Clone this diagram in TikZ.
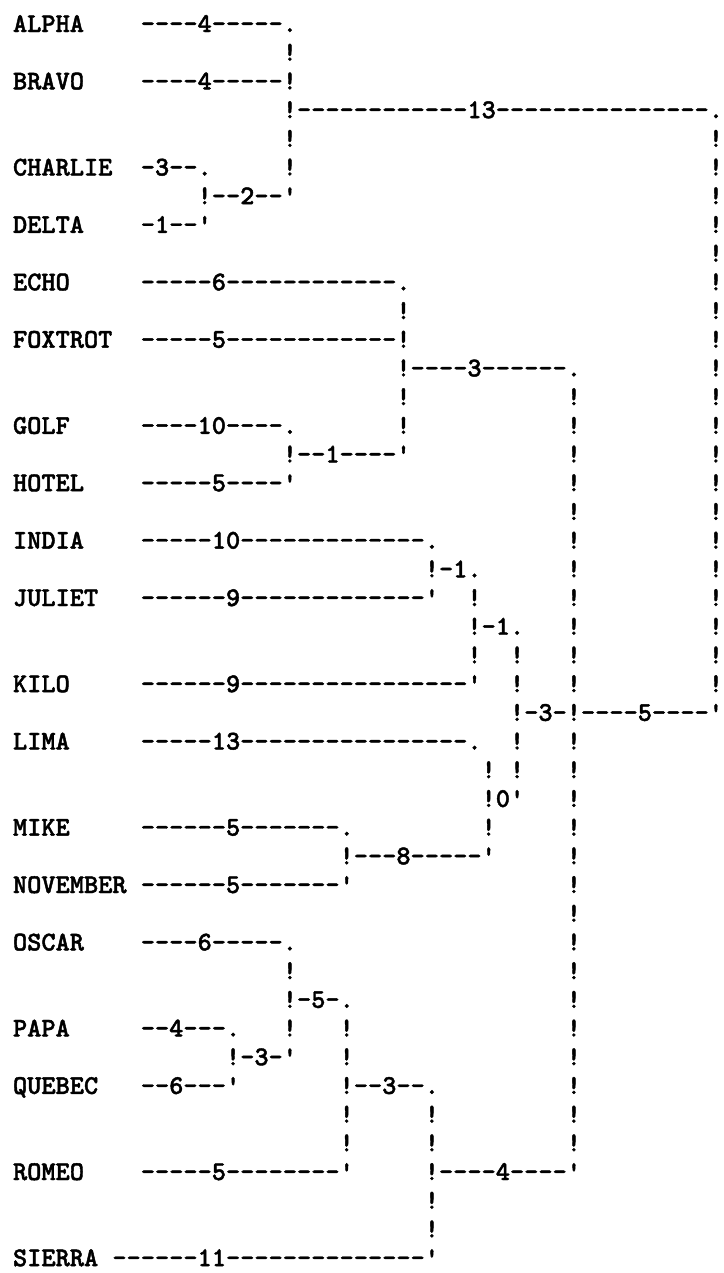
\documentclass[tikz,border=0pt]{standalone}
\usepackage{fontspec}
\setmonofont{lmmonolt10-bold.otf}[FakeBold=1.6]

\begin{document}
\begin{tikzpicture}[
  x=7.1pt, y=-14.35pt,
  font=\ttfamily\fontsize{13.524}{16}\selectfont,
  txt/.style={anchor=base west,inner sep=0pt,outer sep=0pt}]

\useasboundingbox (-0.9155,-1.115) rectangle (50.07,43.24);

\node[txt] (alpha) at (0,0) {ALPHA};
\node[txt] (alpha-l) at (9,0) {----4-----.};
\node[txt] (bravo) at (0,2) {BRAVO};
\node[txt] (bravo-l) at (9,2) {----4-----!};
\node[txt] (ab) at (19,3) {!------------13---------------.};
\node[txt] (charlie) at (0,5) {CHARLIE};
\node[txt] (charlie-l) at (9,5) {-3--.};
\node[txt] (cd) at (13,6) {!--2--'};
\node[txt] (delta) at (0,7) {DELTA};
\node[txt] (delta-l) at (9,7) {-1--'};
\node[txt] (echo) at (0,9) {ECHO};
\node[txt] (echo-l) at (9,9) {-----6------------.};
\node[txt] (foxtrot) at (0,11) {FOXTROT};
\node[txt] (foxtrot-l) at (9,11) {-----5------------!};
\node[txt] (ef) at (27,12) {!----3------.};
\node[txt] (golf) at (0,14) {GOLF};
\node[txt] (golf-l) at (9,14) {----10----.};
\node[txt] (gh) at (19,15) {!--1----'};
\node[txt] (hotel) at (0,16) {HOTEL};
\node[txt] (hotel-l) at (9,16) {-----5----'};
\node[txt] (india) at (0,18) {INDIA};
\node[txt] (india-l) at (9,18) {-----10-------------.};
\node[txt] (ij) at (29,19) {!-1.};
\node[txt] (juliet) at (0,20) {JULIET};
\node[txt] (juliet-l) at (9,20) {------9-------------'};
\node[txt] (ijk) at (32,21) {!-1.};
\node[txt] (kilo) at (0,23) {KILO};
\node[txt] (kilo-l) at (9,23) {------9----------------'};
\node[txt] (root) at (35,24) {!-3-!----5----'};
\node[txt] (lima) at (0,25) {LIMA};
\node[txt] (lima-l) at (9,25) {-----13----------------.};
\node[txt] (lmn) at (33,27) {!0'};
\node[txt] (mike) at (0,28) {MIKE};
\node[txt] (mike-l) at (9,28) {------5-------.};
\node[txt] (mn) at (23,29) {!---8-----'};
\node[txt] (november) at (0,30) {NOVEMBER};
\node[txt] (november-l) at (9,30) {------5-------'};
\node[txt] (oscar) at (0,32) {OSCAR};
\node[txt] (oscar-l) at (9,32) {----6-----.};
\node[txt] (opq) at (19,34) {!-5-.};
\node[txt] (papa) at (0,35) {PAPA};
\node[txt] (papa-l) at (9,35) {--4---.};
\node[txt] (pq) at (15,36) {!-3-'};
\node[txt] (quebec) at (0,37) {QUEBEC};
\node[txt] (quebec-l) at (9,37) {--6---'};
\node[txt] (opqr) at (23,37) {!--3--.};
\node[txt] (romeo) at (0,40) {ROMEO};
\node[txt] (romeo-l) at (9,40) {-----5--------'};
\node[txt] (rs) at (29,40) {!----4----'};
\node[txt] (sierra) at (0,43) {SIERRA};
\node[txt] (sierra-l) at (7,43) {------11--------------'};

\foreach \r in {4,...,23} \node[txt] (b49-\r) at (49,\r) {!};
\foreach \r in {13,...,23} \node[txt] (b39-\r) at (39,\r) {!};
\foreach \r in {25,...,39} \node[txt] (b39-\r) at (39,\r) {!};
\foreach \c/\r in {19/1,19/4,19/5,27/10,27/13,27/14,32/20,32/22,35/22,35/23,
  35/25,35/26,33/26,33/28,19/33,19/35,23/35,23/36,23/38,23/39,29/38,29/39,29/41,29/42}
  \node[txt] (b\c-\r) at (\c,\r) {!};
\end{tikzpicture}
\end{document}
